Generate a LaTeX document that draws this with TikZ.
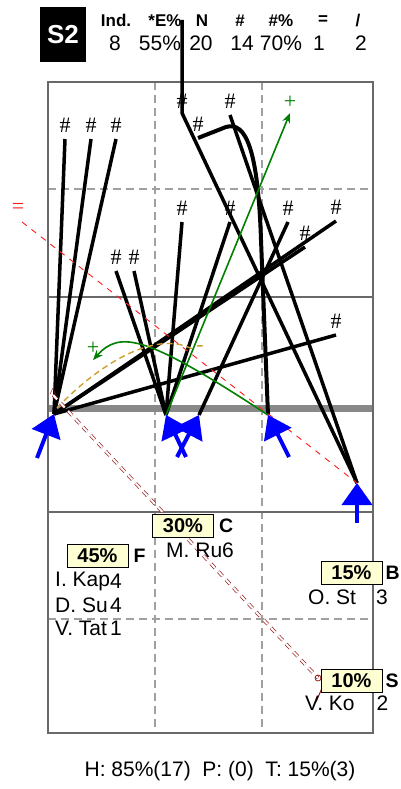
\documentclass[tikz,border=0pt]{standalone}
\usepackage{fontspec}
\setmainfont{Liberation Sans}
\newfontfamily\codefont{Liberation Serif}
\usetikzlibrary{arrows.meta,positioning}

\definecolor{framegray}{RGB}{105,105,105}
\definecolor{gridgray}{RGB}{160,160,160}
\definecolor{bargray}{RGB}{136,136,136}
\definecolor{passgreen}{RGB}{0,128,0}
\definecolor{missred}{RGB}{255,30,30}
\definecolor{dribgold}{RGB}{205,160,50}
\definecolor{lossred}{RGB}{150,30,30}
\definecolor{pctfill}{RGB}{255,255,212}

\newcommand{\txtsize}{\fontsize{21}{23}\selectfont}

\tikzset{
  pass/.style={black, line width=3.5pt},
  code/.style={font=\codefont\fontsize{22}{22}\selectfont, inner sep=0pt},
  runarrow/.style={blue, line width=4pt, -{Triangle[width=30pt,length=22pt]}},
  pct/.style={draw=black, fill=pctfill, line width=0.8pt, minimum width=61pt,
    minimum height=23pt, inner sep=0pt, font=\bfseries\fontsize{20}{20}\selectfont},
  zone/.style={font=\bfseries\fontsize{19.5}{20}\selectfont, inner sep=0pt},
  plname/.style={font=\txtsize, inner sep=0pt},
  hdr/.style={font=\bfseries\fontsize{17}{17}\selectfont, inner sep=0pt},
  hval/.style={font=\txtsize, inner sep=0pt},
  gridline/.style={gridgray, line width=1.2pt, dash pattern=on 8pt off 5pt}
}

\begin{document}
\begin{tikzpicture}[x=1pt, y=-1pt]
  \fill[white] (0,0) rectangle (401,789);
  \useasboundingbox (0,0) rectangle (401,789);

  % header
  \node[fill=black, text=white, minimum width=46pt, minimum height=55pt,
    font=\bfseries\fontsize{26}{26}\selectfont] (S2) at (63,34.5) {S2};
  \node[hdr] (hInd) at (116,20.5) {Ind.};
  \node[hdr] (hE) at (165,20.5) {*E\%};
  \node[hdr] (hN) at (202,20.5) {N};
  \node[hdr] (hH) at (240,20.5) {\#};
  \node[hdr] (hHp) at (281,20.5) {\#\%};
  \node[hdr] (hEq) at (323,20.5) {=};
  \node[hdr] (hSl) at (358,20.5) {/};
  \node[hval] (vInd) at (115,43) {8};
  \node[hval] (vE) at (160,43) {55\%};
  \node[hval] (vN) at (201,43) {20};
  \node[hval] (vH) at (242,43) {14};
  \node[hval] (vHp) at (281,43) {70\%};
  \node[hval] (vEq) at (319,43) {1};
  \node[hval] (vSl) at (361,43) {2};

  % pitch
  \draw[gridline] (155,82) -- (155,733);
  \draw[gridline] (262,82) -- (262,733);
  \draw[gridline] (48,189) -- (373,189);
  \draw[gridline] (48,619) -- (373,619);
  \draw[framegray, line width=1.2pt] (48,297) -- (373,297);
  \draw[framegray, line width=1.2pt] (48,512) -- (373,512);
  \draw[bargray, line width=7pt] (48,408) -- (373,408);
  \draw[framegray, line width=1.4pt] (48,82) rectangle (373,733);

  % players
  \coordinate (o1) at (54,414);
  \coordinate (o2) at (166,415);
  \coordinate (o3) at (199,415);
  \coordinate (o4) at (268,415);
  \coordinate (o5) at (357,483);

  % passes
  \foreach \n/\src/\x/\y in {1/o1/65/139, 2/o1/91/139, 3/o1/116/139,
      4/o2/116/271, 5/o2/134/271, 6/o2/182/222, 7/o2/230/222, 8/o3/288/222,
      9/o1/336/221, 10/o1/305/247, 11/o1/336/335, 13/o5/230/115} {
    \coordinate (e\n) at (\x,\y);
    \node[code, above=6pt of e\n] (t\n) {\#};
    \draw[pass] (\src) -- (e\n);
  }
  \coordinate (e12) at (182,113);
  \coordinate (top12) at (182,20);
  \draw[pass] (o5) -- (e12) -- (top12);
  \node[code] (t12) at (182,101) {\#};
  \coordinate (e14) at (198,138);
  \node[code, above=6pt of e14] (t14) {\#};
  \draw[pass, line width=4pt] (o4) -- (261,240) .. controls (258,150) and (246,121) .. (226,127) -- (e14);

  % green passes
  \coordinate (g1) at (290,113);
  \node[code, text=passgreen] (p1) at (290,102) {+};
  \draw[passgreen, line width=1.6pt, -{Stealth[length=10pt,width=8pt]}] (o2) -- (g1);
  \coordinate (g2) at (93,360);
  \node[code, text=passgreen] (p2) at (93,348) {+};
  \draw[passgreen, line width=1.6pt, -{Stealth[length=10pt,width=8pt]}] (o4) .. controls (146,335) and (120,330) .. (g2);

  % dribble
  \coordinate (d1) at (194,350);
  \draw[dribgold, line width=1.4pt, dash pattern=on 6pt off 4pt] (57,408) .. controls (105,358) and (160,330) .. (d1);
  \node[code, text=dribgold] (m1) at (200,348) {-};

  % red miss
  \node[code, text=missred] (q1) at (18,208) {=};
  \coordinate (r1) at (22,222);
  \draw[missred, line width=0.9pt, dash pattern=on 6pt off 6pt] (r1) -- (o5);

  % lost ball
  \coordinate (l1) at (53,395);
  \coordinate (l2) at (318,678);
  \coordinate (l3) at (322,688);
  \coordinate (l4) at (316,702);
  \draw[lossred, line width=0.7pt, double, double distance=2pt, dash pattern=on 6pt off 5pt] (l1) -- (l2);
  \draw[lossred, line width=0.8pt] (l2) circle (3);
  \draw[lossred, line width=1pt] (l3) -- (l4);
  \node[code, text=lossred, font=\codefont\fontsize{14}{14}\selectfont] (s1) at (53,393) {\^{}};

  % run arrows
  \draw[runarrow] (37,458) -- (o1);
  \draw[runarrow] (186,457) -- (o2);
  \draw[runarrow] (177,457) -- (o3);
  \draw[runarrow] (289,457) -- (o4);
  \draw[runarrow] (357,523) -- (o5);

  % zones
  \node[pct] (pC) at (183,525.5) {30\%};
  \node[zone, right=5pt of pC] (zC) {C};
  \node[plname, anchor=west] (nC1) at (166,550) {M. Ru6};

  \node[pct] (pF) at (97.5,556) {45\%};
  \node[zone, right=5pt of pF] (zF) {F};
  \node[plname, anchor=west] (nF1) at (55,581) {I. Kap};
  \node[plname, anchor=west] (nF2) at (55,605) {D. Su};
  \node[plname, anchor=west] (nF3) at (55,628) {V. Tat};
  \node[plname, anchor=east] (cF1) at (122,581) {4};
  \node[plname, anchor=east] (cF2) at (122,605) {4};
  \node[plname, anchor=east] (cF3) at (122,628) {1};

  \node[pct] (pB) at (351.5,572.5) {15\%};
  \node[zone, right=3pt of pB] (zB) {B};
  \node[plname, anchor=west] (nB1) at (308,597) {O. St};
  \node[plname] (cB1) at (382,597) {3};

  \node[pct] (pS) at (351.5,681) {10\%};
  \node[zone, right=3pt of pS] (zS) {S};
  \node[plname, anchor=west] (nS1) at (305,703) {V. Ko};
  \node[plname] (cS1) at (382.5,703) {2};

  % footer
  \node[plname] (foot) at (220,771) {H: 85\%(17)\ \ P: (0)\ \ T: 15\%(3)};
\end{tikzpicture}
\end{document}
